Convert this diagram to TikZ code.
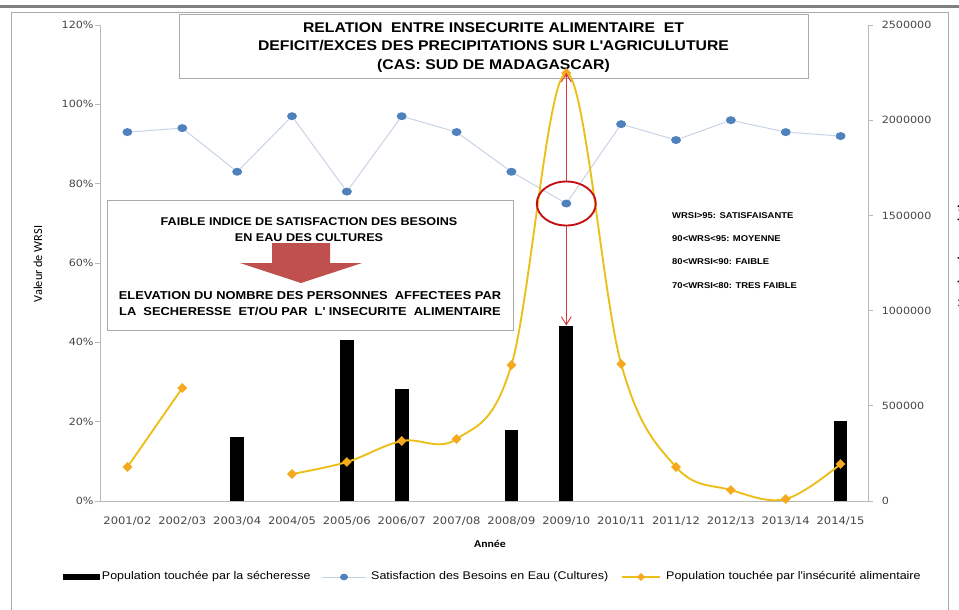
\documentclass[tikz,border=0pt]{standalone}
\usepackage{fontspec}
\setmainfont{Liberation Sans}[FakeStretch=1.12]
\newfontfamily\tickfont{DejaVu Sans}[FakeStretch=1.12]
\newfontfamily\calfont{Carlito}[FakeStretch=1.12]
\newfontfamily\calupright{Carlito}
\usetikzlibrary{shapes.geometric,arrows.meta,positioning}

\definecolor{wrsiblue}{RGB}{79,129,189}
\definecolor{wrsiline}{RGB}{196,210,228}
\definecolor{insecline}{RGB}{236,190,24}
\definecolor{insecorange}{RGB}{247,168,32}
\definecolor{alertred}{RGB}{196,16,20}
\definecolor{arrowred}{RGB}{214,56,56}
\definecolor{blockred}{RGB}{192,80,77}
\definecolor{boxgray}{RGB}{170,170,170}
\definecolor{axisgray}{RGB}{185,185,185}
\definecolor{labelgray}{RGB}{70,70,70}

\begin{document}
\begin{tikzpicture}[x=0.03cm,y=-0.03cm]

\tikzstyle{box}=[rectangle,draw=boxgray,fill=white,line width=0.7pt]
\tikzstyle{wrsidot}=[ellipse,fill=wrsiblue,minimum width=0.3cm,minimum height=0.24cm,inner sep=0pt]
\tikzstyle{insecmark}=[diamond,fill=insecorange,draw=insecline!70!orange,line width=0.3pt,minimum width=0.28cm,minimum height=0.28cm,inner sep=0pt]
\tikzstyle{droughtbar}=[rectangle,fill=black,minimum width=0.41cm,inner sep=0pt,anchor=south]
\tikzstyle{ticklabel}=[text=labelgray,font=\tickfont\fontsize{8.5}{10}\selectfont,inner sep=0pt]
\tikzstyle{yearlabel}=[text=labelgray,font=\tickfont\fontsize{8.8}{10}\selectfont,inner sep=0pt]
\tikzstyle{keytext}=[font=\fontsize{9.5}{11}\selectfont,inner sep=0pt,anchor=west]
\tikzstyle{note}=[font=\bfseries\fontsize{7.2}{9}\selectfont,inner sep=0pt,anchor=west]
\tikzstyle{alertarrow}=[arrowred,line width=0.8pt,-{Straight Barb[length=2.4mm,width=3mm]}]

\useasboundingbox (0,0) rectangle (959,609);

% frame
\draw[line width=0.09cm,gray] (0,6) -- (959,6);
\draw[boxgray,line width=0.8pt] (11,12) rectangle (948,650);

% title
\node[box,minimum width=18.87cm,minimum height=1.92cm] (title) at (493.5,46) {};
\node[align=center,font=\bfseries\fontsize{12}{15.8}\selectfont] (titletext) at (493.5,47.5)
  {RELATION\ \ ENTRE INSECURITE ALIMENTAIRE\ \ ET\\
   DEFICIT/EXCES DES PRECIPITATIONS SUR L\textquotesingle AGRICULUTURE\\
   (CAS: SUD DE MADAGASCAR)};

% message box
\node[box,minimum width=12.18cm,minimum height=3.9cm] (message) at (310,265) {};
\node[align=center,font=\bfseries\fontsize{9.6}{13.5}\selectfont] (cause) at (309,230)
  {FAIBLE INDICE DE SATISFACTION DES BESOINS\\ EN EAU DES CULTURES};
\fill[blockred] (272,243) -- (330,243) -- (330,263) -- (362,263) -- (301,283) -- (240,263) -- (272,263) -- cycle;
\node[align=center,font=\bfseries\fontsize{9.8}{13}\selectfont] (effect) at (310,303.5)
  {ELEVATION DU NOMBRE DES PERSONNES\ \ AFFECTEES PAR\\
   LA\ \ SECHERESSE\ \ ET/OU PAR\ \ L\textquotesingle\ INSECURITE\ \ ALIMENTAIRE};

% axes
\draw[axisgray,line width=0.7pt] (100,25) -- (100,501) -- (868,501) -- (868,25);
\foreach \k/\p in {0/0,1/20,2/40,3/60,4/80,5/100,6/120}
  \draw[axisgray,line width=0.7pt] (95,{501-\k*79.333}) -- (100,{501-\k*79.333})
    node[ticklabel,anchor=east,xshift=-0.18cm] (yl\k) {\p\%};
\foreach \k/\p in {0/0,1/500000,2/1000000,3/1500000,4/2000000,5/2500000}
  \draw[axisgray,line width=0.7pt] (868,{501-\k*95.2}) -- (873,{501-\k*95.2})
    node[ticklabel,anchor=west,xshift=0.25cm] (yr\k) {\p};
\foreach \i/\a/\b in {1/2001/02,2/2002/03,3/2003/04,4/2004/05,5/2005/06,6/2006/07,7/2007/08,
                      8/2008/09,9/2009/10,10/2010/11,11/2011/12,12/2012/13,13/2013/14,14/2014/15}
  \node[yearlabel] (yr\i) at ({100+(\i-0.5)*54.857},521) {\a/\b};

\node[rotate=90,font=\calupright\fontsize{10.5}{12}\selectfont] (ytitle) at (38,264) {Valeur de WRSI};
\node[rotate=90,font=\calupright\bfseries\fontsize{10.5}{12}\selectfont] (y2title) at (963,250) {Nombre de population};
\node[font=\calfont\bfseries\fontsize{9}{11}\selectfont] (xtitle) at (490,544) {Année};

% drought bars
\foreach \i/\h in {3/64,5/161,6/112,8/71,9/175,14/80}
  \node[droughtbar,minimum height=\h*0.03cm] (bar\i) at ({100+(\i-0.5)*54.857},501) {};

% WRSI series
\foreach \i/\v in {1/93,2/94,3/83,4/97,5/78,6/97,7/93,8/83,9/75,10/95,11/91,12/96,13/93,14/92}
  \node[wrsidot] (w\i) at ({100+(\i-0.5)*54.857},{501-\v*3.9667}) {};
\foreach \i [evaluate=\i as \j using int(\i+1)] in {1,...,13}
  \draw[wrsiline,line width=0.8pt] (w\i) -- (w\j);

% food insecurity series
\foreach \i/\y in {1/467,2/388,4/474,5/462,6/441,7/439,8/365,9/73,10/364,11/467,12/490,13/499,14/464}
  \coordinate (i\i) at ({100+(\i-0.5)*54.857},\y);
\draw[insecline,line width=1.6pt] (i1) -- (i2);
\draw[insecline,line width=1.6pt] plot[smooth,tension=0.6] coordinates
  {(i4) (i5) (i6) (i7) (i8) (i9) (i10) (i11) (i12) (i13) (i14)};
\foreach \i in {1,2,4,5,6,7,8,9,10,11,12,13,14}
  \node[insecmark] (d\i) at (i\i) {};

% highlight
\node[ellipse,draw=alertred,line width=1.6pt,minimum width=1.77cm,minimum height=1.32cm,inner sep=0pt] (alert) at (w9) {};
\draw[alertarrow] (alert.north) -- (i9);
\draw[alertarrow] (alert.south) -- (bar9.north);

% WRSI classes
\node[note] (class1) at (672,216) {WRSI>95: SATISFAISANTE};
\node[note] (class2) at (672,239) {90<WRS<95: MOYENNE};
\node[note] (class3) at (672,262) {80<WRSI<90: FAIBLE};
\node[note] (class4) at (672,286) {70<WRSI<80: TRES FAIBLE};

% legend
\node[fill=black,minimum width=1.11cm,minimum height=0.2cm,inner sep=0pt] (keybar) at (81,577) {};
\node[keytext,right=0.06cm of keybar] (keybartext) {Population touchée par la sécheresse};
\coordinate (keywa) at (322,577);
\coordinate (keywb) at (366,577);
\draw[wrsiline,line width=0.8pt] (keywa) -- (keywb);
\node[wrsidot,minimum width=0.24cm,minimum height=0.2cm] (keywdot) at (344,577) {};
\node[keytext] (keywtext) at (371,577) {Satisfaction des Besoins en Eau (Cultures)};
\coordinate (keyia) at (622,577);
\coordinate (keyib) at (660,577);
\draw[insecline,line width=1.6pt] (keyia) -- (keyib);
\node[insecmark,minimum width=0.22cm,minimum height=0.22cm] (keyidot) at (641,577) {};
\node[keytext] (keyitext) at (666,577) {Population touchée par l\textquotesingle insécurité alimentaire};

\end{tikzpicture}
\end{document}
